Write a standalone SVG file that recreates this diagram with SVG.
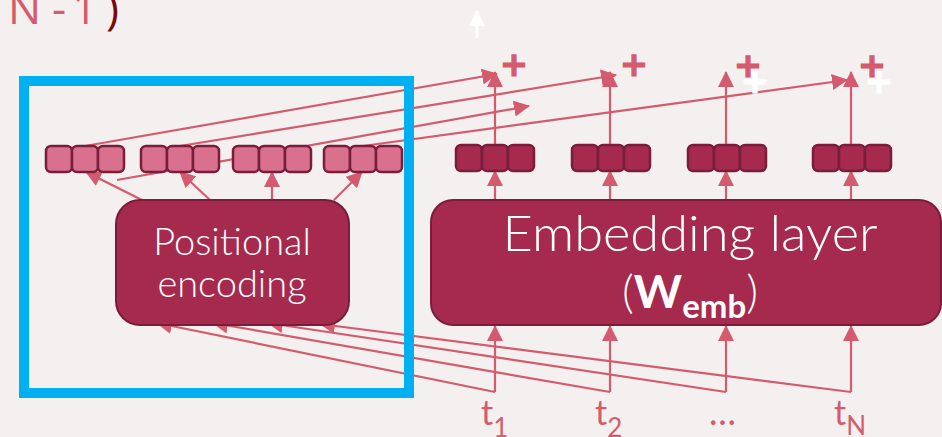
<svg xmlns="http://www.w3.org/2000/svg" width="942" height="437" viewBox="0 0 942 437">
  <defs>
    <marker id="arrow" markerUnits="userSpaceOnUse" markerWidth="16" markerHeight="16" refX="15" refY="8" orient="auto">
      <path d="M0,0 L16,8 L0,16 z" fill="#d45b6d"/>
    </marker>
    <marker id="arrowWhite" markerUnits="userSpaceOnUse" markerWidth="16" markerHeight="16" refX="15" refY="8" orient="auto">
      <path d="M0,0 L16,8 L0,16 z" fill="#ffffff"/>
    </marker>
    <style>
      .bg { fill: #f4f0ef; }
      .conn { stroke: #d45b6d; stroke-width: 2.2; fill: none; }
      .arr { marker-end: url(#arrow); }
      .cellLight { fill: #d8708e; stroke: #7a1d3a; stroke-width: 2.5; }
      .cellDark { fill: #a52a4e; stroke: #7a1d3a; stroke-width: 2.5; }
      .block { fill: #a52a4e; stroke: #7a1d3a; stroke-width: 2; }
      .blockText { fill: #ffffff; font-family: Lato, "Liberation Sans", sans-serif; font-weight: 300; text-anchor: middle; }
      .label { fill: #d45b6d; font-family: Lato, "Liberation Sans", sans-serif; font-weight: 400; }
      .heading { font-family: "Open Sans", "Liberation Sans", sans-serif; font-weight: 400; font-size: 44px; }
      .plus { font-family: "DejaVu Sans", sans-serif; font-weight: bold; font-size: 34px; text-anchor: middle; stroke-width: 1.2; }
      .plusRed { fill: #d45b6d; stroke: #d45b6d; }
      .plusWhite { fill: #ffffff; stroke: #ffffff; }
      .frame { fill: none; stroke: #00b0f0; stroke-width: 10; }
    </style>
  </defs>

  <rect class="bg" x="0" y="0" width="942" height="437"/>

  <!-- heading fragment -->
  <g id="heading">
    <text class="heading" y="24" fill="#d45b6d"><tspan x="8">N</tspan><tspan x="52">-</tspan><tspan x="72">1</tspan></text>
    <text class="heading" x="106" y="24" fill="#7a0a0a" font-weight="600">)</text>
  </g>

  <!-- connectors -->
  <g id="connectors">
    <!-- positional encodings added to the embeddings -->
    <line class="conn arr" x1="85" y1="146" x2="497" y2="74"/>
    <line class="conn arr" x1="180" y1="146" x2="616" y2="75"/>
    <line class="conn arr" x1="117" y1="180" x2="529" y2="106"/>
    <line class="conn arr" x1="363" y1="146" x2="847" y2="80"/>

    <!-- positional encoding outputs -->
    <line class="conn arr" x1="142" y1="200" x2="86" y2="172"/>
    <line class="conn arr" x1="210" y1="200" x2="180" y2="172"/>
    <line class="conn arr" x1="272" y1="200" x2="272" y2="172"/>
    <line class="conn arr" x1="334" y1="200" x2="362" y2="172"/>

    <!-- embedding outputs -->
    <line class="conn arr" x1="495" y1="199" x2="495" y2="171"/>
    <line class="conn arr" x1="610" y1="199" x2="610" y2="171"/>
    <line class="conn arr" x1="726" y1="199" x2="726" y2="171"/>
    <line class="conn arr" x1="851" y1="199" x2="851" y2="171"/>

    <!-- embeddings up to the sums -->
    <line class="conn arr" x1="495" y1="145" x2="495" y2="72"/>
    <line class="conn arr" x1="610" y1="145" x2="610" y2="72"/>
    <line class="conn arr" x1="726" y1="145" x2="726" y2="72"/>
    <line class="conn arr" x1="851" y1="145" x2="851" y2="72"/>

    <!-- tokens into the embedding layer -->
    <line class="conn arr" x1="495" y1="392" x2="495" y2="326"/>
    <line class="conn arr" x1="610" y1="392" x2="610" y2="326"/>
    <line class="conn arr" x1="726" y1="392" x2="726" y2="326"/>
    <line class="conn arr" x1="851" y1="392" x2="851" y2="326"/>

    <!-- token positions into the positional encoding -->
    <line class="conn arr" x1="495" y1="392" x2="157" y2="323"/>
    <line class="conn arr" x1="610" y1="392" x2="213" y2="323"/>
    <line class="conn arr" x1="726" y1="392" x2="268" y2="323"/>
    <line class="conn arr" x1="851" y1="392" x2="320" y2="324"/>

    <!-- output arrow -->
    <line x1="477" y1="38" x2="477" y2="11" stroke="#ffffff" stroke-width="3.3" marker-end="url(#arrowWhite)"/>
  </g>

  <!-- positional encoding vectors -->
  <g id="pos-vectors">
    <rect class="cellLight" x="46" y="146" width="26" height="26" rx="5"/>
    <rect class="cellLight" x="72" y="146" width="26" height="26" rx="5"/>
    <rect class="cellLight" x="98" y="146" width="26" height="26" rx="5"/>

    <rect class="cellLight" x="141" y="146" width="26" height="26" rx="5"/>
    <rect class="cellLight" x="167" y="146" width="26" height="26" rx="5"/>
    <rect class="cellLight" x="193" y="146" width="26" height="26" rx="5"/>

    <rect class="cellLight" x="233" y="146" width="26" height="26" rx="5"/>
    <rect class="cellLight" x="259" y="146" width="26" height="26" rx="5"/>
    <rect class="cellLight" x="285" y="146" width="26" height="26" rx="5"/>

    <rect class="cellLight" x="324" y="146" width="26" height="26" rx="5"/>
    <rect class="cellLight" x="350" y="146" width="26" height="26" rx="5"/>
    <rect class="cellLight" x="376" y="146" width="26" height="26" rx="5"/>
  </g>

  <!-- token embedding vectors -->
  <g id="emb-vectors">
    <rect class="cellDark" x="456" y="145" width="26" height="26" rx="5"/>
    <rect class="cellDark" x="482" y="145" width="26" height="26" rx="5"/>
    <rect class="cellDark" x="508" y="145" width="26" height="26" rx="5"/>

    <rect class="cellDark" x="572" y="145" width="26" height="26" rx="5"/>
    <rect class="cellDark" x="598" y="145" width="26" height="26" rx="5"/>
    <rect class="cellDark" x="624" y="145" width="26" height="26" rx="5"/>

    <rect class="cellDark" x="688" y="145" width="26" height="26" rx="5"/>
    <rect class="cellDark" x="714" y="145" width="26" height="26" rx="5"/>
    <rect class="cellDark" x="740" y="145" width="26" height="26" rx="5"/>

    <rect class="cellDark" x="813" y="145" width="26" height="26" rx="5"/>
    <rect class="cellDark" x="839" y="145" width="26" height="26" rx="5"/>
    <rect class="cellDark" x="865" y="145" width="26" height="26" rx="5"/>
  </g>

  <!-- sums -->
  <g id="sums">
    <text class="plus plusRed" x="514" y="76">+</text>
    <text class="plus plusRed" x="634" y="76">+</text>
    <text class="plus plusRed" x="748" y="77">+</text>
    <text class="plus plusWhite" x="755" y="93">+</text>
    <text class="plus plusRed" x="872" y="77">+</text>
    <text class="plus plusWhite" x="879" y="93">+</text>
  </g>

  <g id="positional-encoding">
    <rect class="block" x="116" y="200" width="233" height="125" rx="24"/>
    <text class="blockText" x="232" y="255" font-size="38">Positional</text>
    <text class="blockText" x="232" y="297" font-size="38">encoding</text>
  </g>

  <g id="embedding-layer">
    <rect class="block" x="431" y="200" width="510" height="125" rx="22"/>
    <text class="blockText" x="690" y="251" font-size="50" textLength="375" lengthAdjust="spacingAndGlyphs">Embedding layer</text>
    <text class="blockText" x="690" y="308" font-size="46">(<tspan font-weight="bold">W</tspan><tspan font-weight="bold" font-size="33" dy="10">emb</tspan><tspan dy="-10">)</tspan></text>
  </g>

  <!-- tokens -->
  <g id="tokens">
    <text class="label" x="481" y="425" font-size="34">t<tspan font-size="26" dy="12">1</tspan></text>
    <text class="label" x="595" y="425" font-size="34">t<tspan font-size="26" dy="12">2</tspan></text>
    <text class="label" x="709" y="425" font-size="36">…</text>
    <text class="label" x="834" y="425" font-size="34">t<tspan font-size="26" dy="10">N</tspan></text>
  </g>

  <!-- highlight frame -->
  <g id="frame">
    <rect class="frame" x="24" y="81" width="385" height="312"/>
  </g>
</svg>
